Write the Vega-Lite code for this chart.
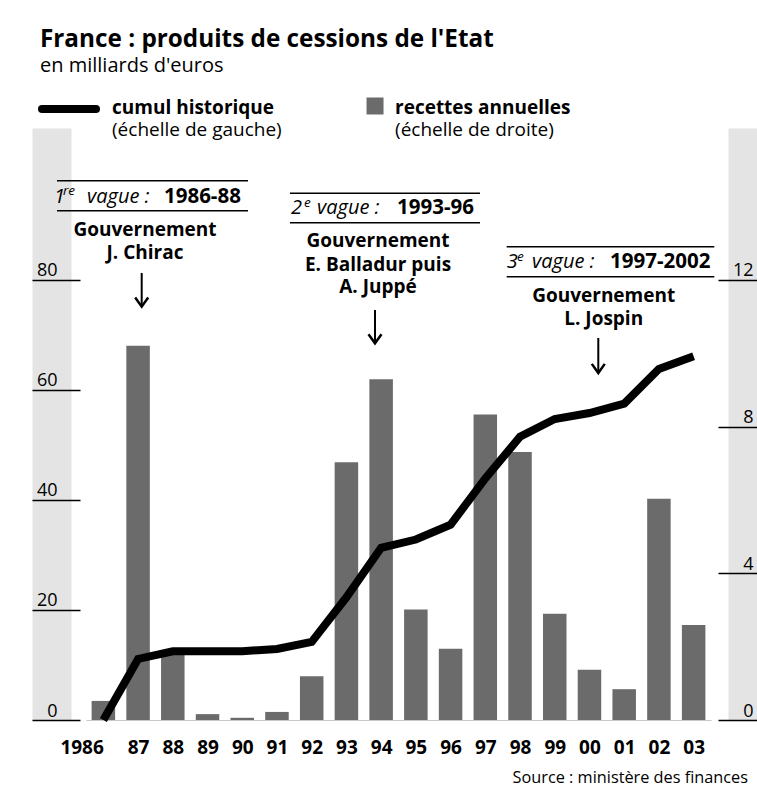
{
  "$schema": "https://vega.github.io/schema/vega-lite/v6.json",
  "width": 625,
  "height": 592,
  "autosize": {"type": "none"},
  "padding": {"left": 86, "top": 128, "right": 46, "bottom": 67},
  "background": "white",
  "config": {"font": "Open Sans", "view": {"stroke": null}, "axis": {"grid": false}, "scale": {"continuousPadding": 0}},
  "datasets": {
    "series": [
      {"year": 1986, "cumul": 0, "recettes": 0.52},
      {"year": 1987, "cumul": 11.1, "recettes": 10.2},
      {"year": 1988, "cumul": 12.5, "recettes": 1.85},
      {"year": 1989, "cumul": 12.5, "recettes": 0.16},
      {"year": 1990, "cumul": 12.5, "recettes": 0.06},
      {"year": 1991, "cumul": 12.9, "recettes": 0.22},
      {"year": 1992, "cumul": 14.2, "recettes": 1.19},
      {"year": 1993, "cumul": 22.3, "recettes": 7.03},
      {"year": 1994, "cumul": 31.3, "recettes": 9.29},
      {"year": 1995, "cumul": 32.8, "recettes": 3.01},
      {"year": 1996, "cumul": 35.5, "recettes": 1.94},
      {"year": 1997, "cumul": 43.9, "recettes": 8.33},
      {"year": 1998, "cumul": 51.5, "recettes": 7.31},
      {"year": 1999, "cumul": 54.7, "recettes": 2.9},
      {"year": 2000, "cumul": 55.8, "recettes": 1.37},
      {"year": 2001, "cumul": 57.5, "recettes": 0.84},
      {"year": 2002, "cumul": 63.8, "recettes": 6.03},
      {"year": 2003, "cumul": 66.1, "recettes": 2.59}
    ],
    "texts": [
      {"kind": "title", "x": 1984.175, "y": 122.3, "t": "France : produits de cessions de l'Etat"},
      {"kind": "subtitle", "x": 1984.175, "y": 117.8, "t": "en milliards d'euros"},
      {"kind": "boldL", "x": 1986.249, "y": 110.15, "t": "cumul historique"},
      {"kind": "boldL", "x": 1994.4, "y": 110.15, "t": "recettes annuelles"},
      {"kind": "regL", "x": 1986.249, "y": 106.2, "t": "(échelle de gauche)"},
      {"kind": "regL", "x": 1994.4, "y": 106.2, "t": "(échelle de droite)"},
      {"kind": "italic", "x": 1984.578, "y": 94.02, "t": "1"},
      {"kind": "sup", "x": 1984.838, "y": 95.42, "t": "re"},
      {"kind": "italic", "x": 1985.529, "y": 94.02, "t": "vague :"},
      {"kind": "range", "x": 1987.746, "y": 94.02, "t": "1986-88"},
      {"kind": "gov", "x": 1987.199, "y": 87.97, "t": "Gouvernement"},
      {"kind": "gov", "x": 1987.199, "y": 83.74, "t": "J. Chirac"},
      {"kind": "italic", "x": 1991.404, "y": 91.92, "t": "2"},
      {"kind": "sup", "x": 1991.78, "y": 93.3, "t": "e"},
      {"kind": "italic", "x": 1992.153, "y": 91.92, "t": "vague :"},
      {"kind": "range", "x": 1994.457, "y": 91.92, "t": "1993-96"},
      {"kind": "gov", "x": 1993.91, "y": 86.03, "t": "Gouvernement"},
      {"kind": "gov", "x": 1993.91, "y": 81.66, "t": "E. Balladur puis"},
      {"kind": "gov", "x": 1993.91, "y": 77.56, "t": "A. Juppé"},
      {"kind": "italic", "x": 1997.616, "y": 82.1, "t": "3"},
      {"kind": "sup", "x": 1997.913, "y": 83.43, "t": "e"},
      {"kind": "italic", "x": 1998.345, "y": 82.1, "t": "vague :"},
      {"kind": "range", "x": 2000.591, "y": 82.1, "t": "1997-2002"},
      {"kind": "gov", "x": 2000.41, "y": 76.03, "t": "Gouvernement"},
      {"kind": "gov", "x": 2000.41, "y": 71.79, "t": "L. Jospin"},
      {"kind": "source", "x": 2004.566, "y": -11.4, "t": "Source : ministère des finances"}
    ],
    "rules": [
      {"x": 1984.665, "x2": 1990.166, "y": 98.02},
      {"x": 1984.665, "x2": 1990.166, "y": 92.57},
      {"x": 1991.375, "x2": 1996.847, "y": 95.73},
      {"x": 1991.375, "x2": 1996.847, "y": 90.39},
      {"x": 1997.616, "x2": 2003.595, "y": 86.03},
      {"x": 1997.616, "x2": 2003.595, "y": 80.57}
    ],
    "arrows": [
      {"x": 1987.104, "y": 81.25, "y2": 75.12},
      {"x": 1993.823, "y": 74.52, "y2": 68.47},
      {"x": 2000.254, "y": 69.43, "y2": 63.07}
    ],
    "legendline": [{"x": 1984.233, "x2": 1985.788, "y": 111.05}],
    "legendsquare": [{"x": 1993.824, "y": 111.6}]
  },
  "resolve": {"scale": {"y": "independent"}, "axis": {"y": "independent"}},
  "layer": [
    {
      "data": {"name": "series"},
      "mark": {"type": "point", "opacity": 0},
      "encoding": {
        "x": {"field": "year", "type": "quantitative", "scale": {"domain": [1985.5, 2003.5], "nice": false, "zero": false, "padding": 0},
          "axis": {"values": [1986, 1987, 1988, 1989, 1990, 1991, 1992, 1993, 1994, 1995, 1996, 1997, 1998, 1999, 2000, 2001, 2002, 2003], "labelExpr": "datum.value == 1986 ? '1986' : format(datum.value % 100, '02d')", "labelFontSize": 19, "labelFontWeight": "bold", "labelColor": "black", "ticks": false, "labelPadding": 33, "labelBaseline": "alphabetic", "labelFlush": false, "labelOverlap": false, "labelAlign": {"condition": {"test": "datum.value == 1986", "value": "right"}, "value": "center"}, "domain": true, "domainColor": "#c8c8c8", "domainWidth": 1, "title": null, "grid": false, "zindex": 0}},
        "y": {"field": "cumul", "type": "quantitative", "scale": {"domain": [0, 107.6], "nice": false, "zero": false},
          "axis": {"orient": "left", "offset": 34.5, "domain": true, "domainColor": "#e4e4e4", "domainWidth": 39, "ticks": false, "labels": false, "title": null, "grid": false, "zindex": 0}}
      }
    },
    {
      "data": {"name": "series"},
      "mark": {"type": "point", "opacity": 0},
      "encoding": {
        "x": {"field": "year", "type": "quantitative", "scale": {"domain": [1985.5, 2003.5], "nice": false, "zero": false, "padding": 0},
          "axis": {"values": [1986, 1987, 1988, 1989, 1990, 1991, 1992, 1993, 1994, 1995, 1996, 1997, 1998, 1999, 2000, 2001, 2002, 2003], "labelExpr": "datum.value == 1986 ? '1986' : format(datum.value % 100, '02d')", "labelFontSize": 19, "labelFontWeight": "bold", "labelColor": "black", "ticks": false, "labelPadding": 33, "labelBaseline": "alphabetic", "labelFlush": false, "labelOverlap": false, "labelAlign": {"condition": {"test": "datum.value == 1986", "value": "right"}, "value": "center"}, "domain": true, "domainColor": "#c8c8c8", "domainWidth": 1, "title": null, "grid": false, "zindex": 0}},
        "y": {"field": "recettes", "type": "quantitative", "scale": {"domain": [0, 16.14], "nice": false, "zero": false},
          "axis": {"orient": "right", "offset": 31.5, "domain": true, "domainColor": "#e4e4e4", "domainWidth": 29, "ticks": false, "labels": false, "title": null, "grid": false, "zindex": 0}}
      }
    },
    {
      "data": {"name": "series"},
      "mark": {"type": "bar", "width": 23.5, "color": "#6b6b6b"},
      "encoding": {
        "x": {"field": "year", "type": "quantitative", "scale": {"domain": [1985.5, 2003.5], "nice": false, "zero": false, "padding": 0},
          "axis": {"values": [1986, 1987, 1988, 1989, 1990, 1991, 1992, 1993, 1994, 1995, 1996, 1997, 1998, 1999, 2000, 2001, 2002, 2003], "labelExpr": "datum.value == 1986 ? '1986' : format(datum.value % 100, '02d')", "labelFontSize": 19, "labelFontWeight": "bold", "labelColor": "black", "ticks": false, "labelPadding": 33, "labelBaseline": "alphabetic", "labelFlush": false, "labelOverlap": false, "labelAlign": {"condition": {"test": "datum.value == 1986", "value": "right"}, "value": "center"}, "domain": true, "domainColor": "#c8c8c8", "domainWidth": 1, "title": null, "grid": false, "zindex": 0}},
        "y": {"field": "recettes", "type": "quantitative", "scale": {"domain": [0, 16.14], "nice": false, "zero": false},
          "axis": {"orient": "right", "offset": 7, "tickSize": 39, "tickColor": "black", "tickWidth": 1.5, "values": [0, 4, 8, 12],
            "labelAlign": "right", "labelBaseline": "bottom", "labelPadding": -4, "labelFontSize": 18, "labelColor": "black",
            "domain": false, "title": null, "grid": false, "zindex": 1}}
      }
    },
    {
      "data": {"name": "series"},
      "mark": {"type": "line", "color": "black", "strokeWidth": 8, "strokeJoin": "miter"},
      "encoding": {
        "x": {"field": "year", "type": "quantitative", "scale": {"domain": [1985.5, 2003.5], "nice": false, "zero": false, "padding": 0},
          "axis": {"values": [1986, 1987, 1988, 1989, 1990, 1991, 1992, 1993, 1994, 1995, 1996, 1997, 1998, 1999, 2000, 2001, 2002, 2003], "labelExpr": "datum.value == 1986 ? '1986' : format(datum.value % 100, '02d')", "labelFontSize": 19, "labelFontWeight": "bold", "labelColor": "black", "ticks": false, "labelPadding": 33, "labelBaseline": "alphabetic", "labelFlush": false, "labelOverlap": false, "labelAlign": {"condition": {"test": "datum.value == 1986", "value": "right"}, "value": "center"}, "domain": true, "domainColor": "#c8c8c8", "domainWidth": 1, "title": null, "grid": false, "zindex": 0}},
        "y": {"field": "cumul", "type": "quantitative", "scale": {"domain": [0, 107.6], "nice": false, "zero": false},
          "axis": {"orient": "left", "offset": 6, "tickSize": 48, "tickColor": "black", "tickWidth": 1.5, "values": [0, 20, 40, 60, 80],
            "labelAlign": "right", "labelBaseline": "bottom", "labelPadding": -25, "labelFontSize": 18, "labelColor": "black",
            "domain": false, "title": null, "grid": false, "zindex": 1}}
      }
    },
    {
      "data": {"name": "rules"},
      "mark": {"type": "rule", "color": "black", "strokeWidth": 1.5},
      "encoding": {
        "x": {"field": "x", "type": "quantitative", "scale": {"domain": [1985.5, 2003.5], "nice": false, "zero": false, "padding": 0},
          "axis": {"values": [1986, 1987, 1988, 1989, 1990, 1991, 1992, 1993, 1994, 1995, 1996, 1997, 1998, 1999, 2000, 2001, 2002, 2003], "labelExpr": "datum.value == 1986 ? '1986' : format(datum.value % 100, '02d')", "labelFontSize": 19, "labelFontWeight": "bold", "labelColor": "black", "ticks": false, "labelPadding": 33, "labelBaseline": "alphabetic", "labelFlush": false, "labelOverlap": false, "labelAlign": {"condition": {"test": "datum.value == 1986", "value": "right"}, "value": "center"}, "domain": true, "domainColor": "#c8c8c8", "domainWidth": 1, "title": null, "grid": false, "zindex": 0}},
        "x2": {"field": "x2"},
        "y": {"field": "y", "type": "quantitative", "scale": {"domain": [0, 107.6], "nice": false, "zero": false}, "axis": null}
      }
    },
    {
      "data": {"name": "arrows"},
      "mark": {"type": "rule", "color": "black", "strokeWidth": 2},
      "encoding": {
        "x": {"field": "x", "type": "quantitative", "scale": {"domain": [1985.5, 2003.5], "nice": false, "zero": false, "padding": 0},
          "axis": {"values": [1986, 1987, 1988, 1989, 1990, 1991, 1992, 1993, 1994, 1995, 1996, 1997, 1998, 1999, 2000, 2001, 2002, 2003], "labelExpr": "datum.value == 1986 ? '1986' : format(datum.value % 100, '02d')", "labelFontSize": 19, "labelFontWeight": "bold", "labelColor": "black", "ticks": false, "labelPadding": 33, "labelBaseline": "alphabetic", "labelFlush": false, "labelOverlap": false, "labelAlign": {"condition": {"test": "datum.value == 1986", "value": "right"}, "value": "center"}, "domain": true, "domainColor": "#c8c8c8", "domainWidth": 1, "title": null, "grid": false, "zindex": 0}},
        "y": {"field": "y", "type": "quantitative", "scale": {"domain": [0, 107.6], "nice": false, "zero": false}, "axis": null},
        "y2": {"field": "y2"}
      }
    },
    {
      "data": {"name": "arrows"},
      "mark": {"type": "point", "shape": "M-1,-1.4L0,0L1,-1.4", "filled": false, "stroke": "black", "strokeWidth": 2.5, "size": 169, "opacity": 1, "strokeJoin": "miter"},
      "encoding": {
        "x": {"field": "x", "type": "quantitative", "scale": {"domain": [1985.5, 2003.5], "nice": false, "zero": false, "padding": 0},
          "axis": {"values": [1986, 1987, 1988, 1989, 1990, 1991, 1992, 1993, 1994, 1995, 1996, 1997, 1998, 1999, 2000, 2001, 2002, 2003], "labelExpr": "datum.value == 1986 ? '1986' : format(datum.value % 100, '02d')", "labelFontSize": 19, "labelFontWeight": "bold", "labelColor": "black", "ticks": false, "labelPadding": 33, "labelBaseline": "alphabetic", "labelFlush": false, "labelOverlap": false, "labelAlign": {"condition": {"test": "datum.value == 1986", "value": "right"}, "value": "center"}, "domain": true, "domainColor": "#c8c8c8", "domainWidth": 1, "title": null, "grid": false, "zindex": 0}},
        "y": {"field": "y2", "type": "quantitative", "scale": {"domain": [0, 107.6], "nice": false, "zero": false}, "axis": null}
      }
    },
    {
      "data": {"name": "legendline"},
      "mark": {"type": "rule", "color": "black", "strokeWidth": 8, "strokeCap": "round"},
      "encoding": {
        "x": {"field": "x", "type": "quantitative", "scale": {"domain": [1985.5, 2003.5], "nice": false, "zero": false, "padding": 0},
          "axis": {"values": [1986, 1987, 1988, 1989, 1990, 1991, 1992, 1993, 1994, 1995, 1996, 1997, 1998, 1999, 2000, 2001, 2002, 2003], "labelExpr": "datum.value == 1986 ? '1986' : format(datum.value % 100, '02d')", "labelFontSize": 19, "labelFontWeight": "bold", "labelColor": "black", "ticks": false, "labelPadding": 33, "labelBaseline": "alphabetic", "labelFlush": false, "labelOverlap": false, "labelAlign": {"condition": {"test": "datum.value == 1986", "value": "right"}, "value": "center"}, "domain": true, "domainColor": "#c8c8c8", "domainWidth": 1, "title": null, "grid": false, "zindex": 0}},
        "x2": {"field": "x2"},
        "y": {"field": "y", "type": "quantitative", "scale": {"domain": [0, 107.6], "nice": false, "zero": false}, "axis": null}
      }
    },
    {
      "data": {"name": "legendsquare"},
      "mark": {"type": "point", "shape": "square", "filled": true, "color": "#6b6b6b", "size": 289, "opacity": 1},
      "encoding": {
        "x": {"field": "x", "type": "quantitative", "scale": {"domain": [1985.5, 2003.5], "nice": false, "zero": false, "padding": 0},
          "axis": {"values": [1986, 1987, 1988, 1989, 1990, 1991, 1992, 1993, 1994, 1995, 1996, 1997, 1998, 1999, 2000, 2001, 2002, 2003], "labelExpr": "datum.value == 1986 ? '1986' : format(datum.value % 100, '02d')", "labelFontSize": 19, "labelFontWeight": "bold", "labelColor": "black", "ticks": false, "labelPadding": 33, "labelBaseline": "alphabetic", "labelFlush": false, "labelOverlap": false, "labelAlign": {"condition": {"test": "datum.value == 1986", "value": "right"}, "value": "center"}, "domain": true, "domainColor": "#c8c8c8", "domainWidth": 1, "title": null, "grid": false, "zindex": 0}},
        "y": {"field": "y", "type": "quantitative", "scale": {"domain": [0, 107.6], "nice": false, "zero": false}, "axis": null}
      }
    },
    {
      "data": {"name": "texts"},
      "transform": [{"filter": "datum.kind == 'title'"}],
      "mark": {"type": "text", "align": "left", "baseline": "alphabetic", "fontSize": 24.3, "fontWeight": "bold", "color": "black"},
      "encoding": {
        "x": {"field": "x", "type": "quantitative", "scale": {"domain": [1985.5, 2003.5], "nice": false, "zero": false, "padding": 0},
          "axis": {"values": [1986, 1987, 1988, 1989, 1990, 1991, 1992, 1993, 1994, 1995, 1996, 1997, 1998, 1999, 2000, 2001, 2002, 2003], "labelExpr": "datum.value == 1986 ? '1986' : format(datum.value % 100, '02d')", "labelFontSize": 19, "labelFontWeight": "bold", "labelColor": "black", "ticks": false, "labelPadding": 33, "labelBaseline": "alphabetic", "labelFlush": false, "labelOverlap": false, "labelAlign": {"condition": {"test": "datum.value == 1986", "value": "right"}, "value": "center"}, "domain": true, "domainColor": "#c8c8c8", "domainWidth": 1, "title": null, "grid": false, "zindex": 0}},
        "y": {"field": "y", "type": "quantitative", "scale": {"domain": [0, 107.6], "nice": false, "zero": false}, "axis": null},
        "text": {"field": "t"}
      }
    },
    {
      "data": {"name": "texts"},
      "transform": [{"filter": "datum.kind == 'subtitle'"}],
      "mark": {"type": "text", "align": "left", "baseline": "alphabetic", "fontSize": 20, "color": "black"},
      "encoding": {
        "x": {"field": "x", "type": "quantitative", "scale": {"domain": [1985.5, 2003.5], "nice": false, "zero": false, "padding": 0},
          "axis": {"values": [1986, 1987, 1988, 1989, 1990, 1991, 1992, 1993, 1994, 1995, 1996, 1997, 1998, 1999, 2000, 2001, 2002, 2003], "labelExpr": "datum.value == 1986 ? '1986' : format(datum.value % 100, '02d')", "labelFontSize": 19, "labelFontWeight": "bold", "labelColor": "black", "ticks": false, "labelPadding": 33, "labelBaseline": "alphabetic", "labelFlush": false, "labelOverlap": false, "labelAlign": {"condition": {"test": "datum.value == 1986", "value": "right"}, "value": "center"}, "domain": true, "domainColor": "#c8c8c8", "domainWidth": 1, "title": null, "grid": false, "zindex": 0}},
        "y": {"field": "y", "type": "quantitative", "scale": {"domain": [0, 107.6], "nice": false, "zero": false}, "axis": null},
        "text": {"field": "t"}
      }
    },
    {
      "data": {"name": "texts"},
      "transform": [{"filter": "datum.kind == 'boldL'"}],
      "mark": {"type": "text", "align": "left", "baseline": "alphabetic", "fontSize": 19, "fontWeight": "bold", "color": "black"},
      "encoding": {
        "x": {"field": "x", "type": "quantitative", "scale": {"domain": [1985.5, 2003.5], "nice": false, "zero": false, "padding": 0},
          "axis": {"values": [1986, 1987, 1988, 1989, 1990, 1991, 1992, 1993, 1994, 1995, 1996, 1997, 1998, 1999, 2000, 2001, 2002, 2003], "labelExpr": "datum.value == 1986 ? '1986' : format(datum.value % 100, '02d')", "labelFontSize": 19, "labelFontWeight": "bold", "labelColor": "black", "ticks": false, "labelPadding": 33, "labelBaseline": "alphabetic", "labelFlush": false, "labelOverlap": false, "labelAlign": {"condition": {"test": "datum.value == 1986", "value": "right"}, "value": "center"}, "domain": true, "domainColor": "#c8c8c8", "domainWidth": 1, "title": null, "grid": false, "zindex": 0}},
        "y": {"field": "y", "type": "quantitative", "scale": {"domain": [0, 107.6], "nice": false, "zero": false}, "axis": null},
        "text": {"field": "t"}
      }
    },
    {
      "data": {"name": "texts"},
      "transform": [{"filter": "datum.kind == 'range'"}],
      "mark": {"type": "text", "align": "left", "baseline": "alphabetic", "fontSize": 20.5, "fontWeight": "bold", "color": "black"},
      "encoding": {
        "x": {"field": "x", "type": "quantitative", "scale": {"domain": [1985.5, 2003.5], "nice": false, "zero": false, "padding": 0},
          "axis": {"values": [1986, 1987, 1988, 1989, 1990, 1991, 1992, 1993, 1994, 1995, 1996, 1997, 1998, 1999, 2000, 2001, 2002, 2003], "labelExpr": "datum.value == 1986 ? '1986' : format(datum.value % 100, '02d')", "labelFontSize": 19, "labelFontWeight": "bold", "labelColor": "black", "ticks": false, "labelPadding": 33, "labelBaseline": "alphabetic", "labelFlush": false, "labelOverlap": false, "labelAlign": {"condition": {"test": "datum.value == 1986", "value": "right"}, "value": "center"}, "domain": true, "domainColor": "#c8c8c8", "domainWidth": 1, "title": null, "grid": false, "zindex": 0}},
        "y": {"field": "y", "type": "quantitative", "scale": {"domain": [0, 107.6], "nice": false, "zero": false}, "axis": null},
        "text": {"field": "t"}
      }
    },
    {
      "data": {"name": "texts"},
      "transform": [{"filter": "datum.kind == 'regL'"}],
      "mark": {"type": "text", "align": "left", "baseline": "alphabetic", "fontSize": 19, "color": "black"},
      "encoding": {
        "x": {"field": "x", "type": "quantitative", "scale": {"domain": [1985.5, 2003.5], "nice": false, "zero": false, "padding": 0},
          "axis": {"values": [1986, 1987, 1988, 1989, 1990, 1991, 1992, 1993, 1994, 1995, 1996, 1997, 1998, 1999, 2000, 2001, 2002, 2003], "labelExpr": "datum.value == 1986 ? '1986' : format(datum.value % 100, '02d')", "labelFontSize": 19, "labelFontWeight": "bold", "labelColor": "black", "ticks": false, "labelPadding": 33, "labelBaseline": "alphabetic", "labelFlush": false, "labelOverlap": false, "labelAlign": {"condition": {"test": "datum.value == 1986", "value": "right"}, "value": "center"}, "domain": true, "domainColor": "#c8c8c8", "domainWidth": 1, "title": null, "grid": false, "zindex": 0}},
        "y": {"field": "y", "type": "quantitative", "scale": {"domain": [0, 107.6], "nice": false, "zero": false}, "axis": null},
        "text": {"field": "t"}
      }
    },
    {
      "data": {"name": "texts"},
      "transform": [{"filter": "datum.kind == 'italic'"}],
      "mark": {"type": "text", "align": "left", "baseline": "alphabetic", "fontSize": 20, "fontStyle": "italic", "color": "black"},
      "encoding": {
        "x": {"field": "x", "type": "quantitative", "scale": {"domain": [1985.5, 2003.5], "nice": false, "zero": false, "padding": 0},
          "axis": {"values": [1986, 1987, 1988, 1989, 1990, 1991, 1992, 1993, 1994, 1995, 1996, 1997, 1998, 1999, 2000, 2001, 2002, 2003], "labelExpr": "datum.value == 1986 ? '1986' : format(datum.value % 100, '02d')", "labelFontSize": 19, "labelFontWeight": "bold", "labelColor": "black", "ticks": false, "labelPadding": 33, "labelBaseline": "alphabetic", "labelFlush": false, "labelOverlap": false, "labelAlign": {"condition": {"test": "datum.value == 1986", "value": "right"}, "value": "center"}, "domain": true, "domainColor": "#c8c8c8", "domainWidth": 1, "title": null, "grid": false, "zindex": 0}},
        "y": {"field": "y", "type": "quantitative", "scale": {"domain": [0, 107.6], "nice": false, "zero": false}, "axis": null},
        "text": {"field": "t"}
      }
    },
    {
      "data": {"name": "texts"},
      "transform": [{"filter": "datum.kind == 'sup'"}],
      "mark": {"type": "text", "align": "left", "baseline": "alphabetic", "fontSize": 13.5, "fontStyle": "italic", "color": "black"},
      "encoding": {
        "x": {"field": "x", "type": "quantitative", "scale": {"domain": [1985.5, 2003.5], "nice": false, "zero": false, "padding": 0},
          "axis": {"values": [1986, 1987, 1988, 1989, 1990, 1991, 1992, 1993, 1994, 1995, 1996, 1997, 1998, 1999, 2000, 2001, 2002, 2003], "labelExpr": "datum.value == 1986 ? '1986' : format(datum.value % 100, '02d')", "labelFontSize": 19, "labelFontWeight": "bold", "labelColor": "black", "ticks": false, "labelPadding": 33, "labelBaseline": "alphabetic", "labelFlush": false, "labelOverlap": false, "labelAlign": {"condition": {"test": "datum.value == 1986", "value": "right"}, "value": "center"}, "domain": true, "domainColor": "#c8c8c8", "domainWidth": 1, "title": null, "grid": false, "zindex": 0}},
        "y": {"field": "y", "type": "quantitative", "scale": {"domain": [0, 107.6], "nice": false, "zero": false}, "axis": null},
        "text": {"field": "t"}
      }
    },
    {
      "data": {"name": "texts"},
      "transform": [{"filter": "datum.kind == 'gov'"}],
      "mark": {"type": "text", "align": "center", "baseline": "alphabetic", "fontSize": 19, "fontWeight": "bold", "color": "black"},
      "encoding": {
        "x": {"field": "x", "type": "quantitative", "scale": {"domain": [1985.5, 2003.5], "nice": false, "zero": false, "padding": 0},
          "axis": {"values": [1986, 1987, 1988, 1989, 1990, 1991, 1992, 1993, 1994, 1995, 1996, 1997, 1998, 1999, 2000, 2001, 2002, 2003], "labelExpr": "datum.value == 1986 ? '1986' : format(datum.value % 100, '02d')", "labelFontSize": 19, "labelFontWeight": "bold", "labelColor": "black", "ticks": false, "labelPadding": 33, "labelBaseline": "alphabetic", "labelFlush": false, "labelOverlap": false, "labelAlign": {"condition": {"test": "datum.value == 1986", "value": "right"}, "value": "center"}, "domain": true, "domainColor": "#c8c8c8", "domainWidth": 1, "title": null, "grid": false, "zindex": 0}},
        "y": {"field": "y", "type": "quantitative", "scale": {"domain": [0, 107.6], "nice": false, "zero": false}, "axis": null},
        "text": {"field": "t"}
      }
    },
    {
      "data": {"name": "texts"},
      "transform": [{"filter": "datum.kind == 'source'"}],
      "mark": {"type": "text", "align": "right", "baseline": "alphabetic", "fontSize": 16.3, "color": "black"},
      "encoding": {
        "x": {"field": "x", "type": "quantitative", "scale": {"domain": [1985.5, 2003.5], "nice": false, "zero": false, "padding": 0},
          "axis": {"values": [1986, 1987, 1988, 1989, 1990, 1991, 1992, 1993, 1994, 1995, 1996, 1997, 1998, 1999, 2000, 2001, 2002, 2003], "labelExpr": "datum.value == 1986 ? '1986' : format(datum.value % 100, '02d')", "labelFontSize": 19, "labelFontWeight": "bold", "labelColor": "black", "ticks": false, "labelPadding": 33, "labelBaseline": "alphabetic", "labelFlush": false, "labelOverlap": false, "labelAlign": {"condition": {"test": "datum.value == 1986", "value": "right"}, "value": "center"}, "domain": true, "domainColor": "#c8c8c8", "domainWidth": 1, "title": null, "grid": false, "zindex": 0}},
        "y": {"field": "y", "type": "quantitative", "scale": {"domain": [0, 107.6], "nice": false, "zero": false}, "axis": null},
        "text": {"field": "t"}
      }
    }
  ]
}
